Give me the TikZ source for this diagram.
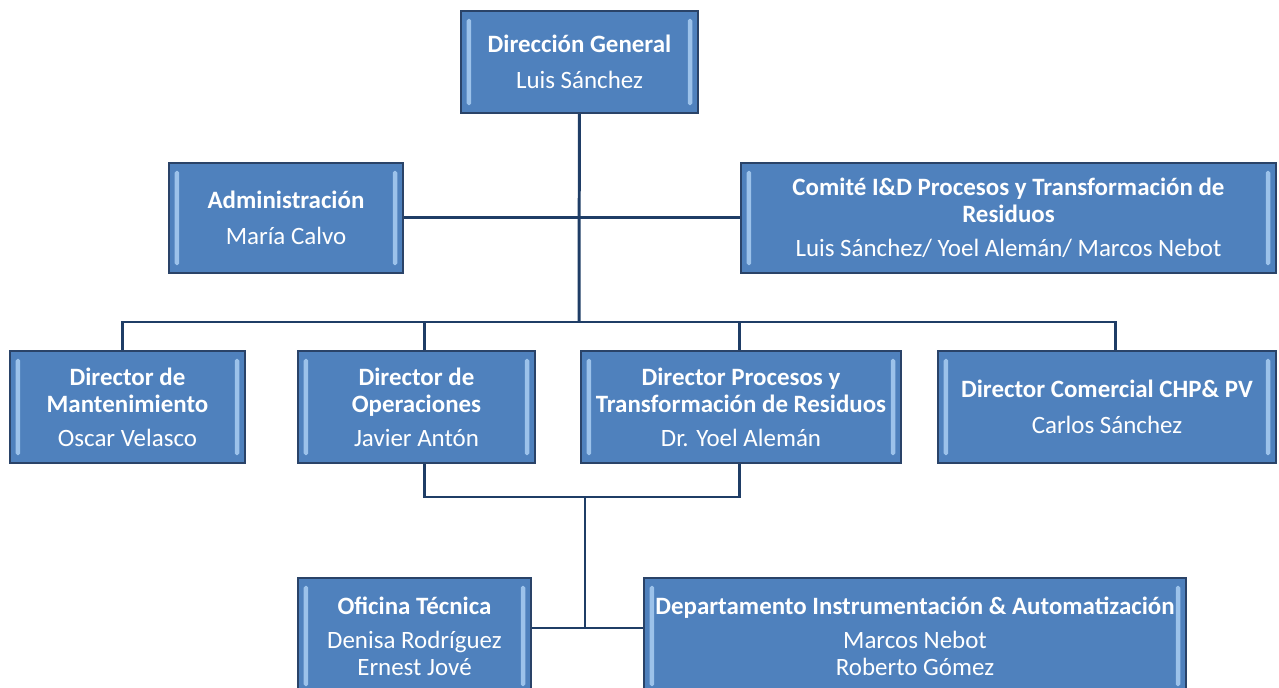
\documentclass[tikz,border=0pt]{standalone}
\usepackage{fontspec}
\setmainfont{Carlito}
\definecolor{cajaazul}{HTML}{4F81BD}
\definecolor{bordeazul}{HTML}{2A4368}
\definecolor{brillo}{HTML}{9CC2EA}
\definecolor{lineaazul}{HTML}{1F3D66}
\tikzset{
  caja/.style={draw=bordeazul, line width=1.2pt, fill=cajaazul, text=white,
    rectangle, align=center, inner sep=2pt,
    font=\fontsize{14.2}{15.3}\selectfont,
    path picture={
      \fill[brillo, rounded corners=1pt]
        ([xshift=3.2pt,yshift=-4.5pt]path picture bounding box.north west) rectangle
        ([xshift=5.8pt,yshift=4.5pt]path picture bounding box.south west);
      \fill[brillo, rounded corners=1pt]
        ([xshift=-3.2pt,yshift=-4.5pt]path picture bounding box.north east) rectangle
        ([xshift=-5.8pt,yshift=4.5pt]path picture bounding box.south east);
    }},
  linea/.style={draw=lineaazul, line width=1.7pt}
}
\begin{document}
\begin{tikzpicture}[x=0.02cm, y=-0.02cm]
  \useasboundingbox (0,0) rectangle (1279,688);
  % niveles
  \node[caja, minimum width=4.74cm, minimum height=2.04cm] (dg) at (579.5,62)
    {\textbf{Dirección General}\\[5.5pt]Luis Sánchez};
  \node[caja, minimum width=4.68cm, minimum height=2.2cm] (adm) at (286,218)
    {\textbf{Administración}\\[5.5pt]María Calvo};
  \node[caja, minimum width=10.7cm, minimum height=2.2cm] (comite) at (1008.5,218)
    {\textbf{Comité I\&D Procesos y Transformación de}\\\textbf{Residuos}\\[4pt]Luis Sánchez/ Yoel Alemán/ Marcos Nebot};
  \node[caja, minimum width=4.7cm, minimum height=2.24cm] (dmant) at (127.5,407)
    {\textbf{Director de}\\\textbf{Mantenimiento}\\[4pt]Oscar Velasco};
  \node[caja, minimum width=4.74cm, minimum height=2.24cm] (dops) at (416.5,407)
    {\textbf{Director de}\\\textbf{Operaciones}\\[4pt]Javier Antón};
  \node[caja, minimum width=6.4cm, minimum height=2.24cm] (dproc) at (741,407)
    {\textbf{Director Procesos  y}\\\textbf{Transformación de Residuos}\\[4pt]Dr. Yoel  Alemán};
  \node[caja, minimum width=6.76cm, minimum height=2.24cm] (dcom) at (1107,407)
    {\textbf{Director Comercial CHP\& PV}\\[5.5pt]Carlos Sánchez};
  \node[caja, minimum width=4.66cm, minimum height=2.32cm] (ofi) at (414.5,636)
    {\textbf{Oficina Técnica}\\[4pt]Denisa Rodríguez\\Ernest Jové};
  \node[caja, minimum width=10.84cm, minimum height=2.32cm] (depto) at (915,636)
    {\textbf{Departamento Instrumentación \& Automatización}\\[4pt]Marcos Nebot\\Roberto Gómez};
  % conectores
  \coordinate (bus) at (579,322);
  \coordinate (union) at (585,497);
  \coordinate (baja) at (585,628);
  \draw[linea] (dg) -- (bus);
  \draw[linea] (adm) -- (comite);
  \draw[linea] ([xshift=-2.6pt]dmant.north) |- (bus) -| ([xshift=5.1pt]dcom.north);
  \draw[linea] ([xshift=4.8pt]dops.north) -- ([xshift=4.8pt]dops.north |- bus);
  \draw[linea] ([xshift=-1.1pt]dproc.north) -- ([xshift=-1.1pt]dproc.north |- bus);
  \draw[linea] ([xshift=4.8pt]dops.south) |- (union) -| ([xshift=-1.1pt]dproc.south);
  \draw[linea] (union) -- (baja);
  \draw[linea] (ofi.east |- baja) -- (depto.west |- baja);
\end{tikzpicture}
\end{document}
